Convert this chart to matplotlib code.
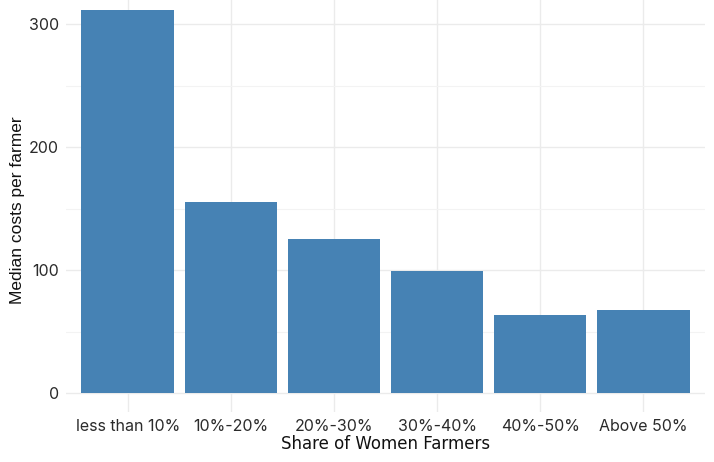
import matplotlib
matplotlib.use("Agg")
import matplotlib.pyplot as plt
from matplotlib.ticker import MultipleLocator

categories = ["less than 10%", "10%-20%", "20%-30%", "30%-40%", "40%-50%", "Above 50%"]
values = [311.6, 155.7, 125.3, 99.5, 63.5, 67.3]
yticks = [0, 100, 200, 300]

plt.rcParams['font.family'] = ['Inter', 'DejaVu Sans']

fig = plt.figure(figsize=(7.14, 4.62), dpi=100)
ax = fig.add_axes([66/714, (462-411.7)/462, (705-66)/714, 411.7/462])

x = list(range(len(categories)))
ax.bar(x, values, width=0.9, color="#4682B4", zorder=3)

ax.set_xlim(-0.6, len(categories) - 0.4)
ax.set_ylim(-15.2, 319.8)
ax.set_yticks(yticks)
ax.yaxis.set_minor_locator(MultipleLocator(50))
ax.set_xticks(x)
ax.set_xticklabels(categories)

ax.grid(True, which='major', color="#EBEBEB", linewidth=1.0, zorder=0)
ax.grid(True, which='minor', axis='y', color="#F3F3F3", linewidth=0.8, zorder=0)
for s in ax.spines.values():
    s.set_visible(False)
ax.tick_params(axis='both', which='both', length=0, labelsize=11.5, labelcolor="#2b2b2b")
ax.tick_params(axis='x', pad=5)
ax.tick_params(axis='y', pad=5)

ax.set_xlabel("Share of Women Farmers", fontsize=12, color="#111111", labelpad=1,
              family=['DejaVu Sans'])
ax.set_ylabel("Median costs per farmer", fontsize=12.5, color="#111111",
              family=['Liberation Sans', 'DejaVu Sans'])
ax.yaxis.set_label_coords(-0.064, 0.49)

fig.savefig("out.png", dpi=100)
